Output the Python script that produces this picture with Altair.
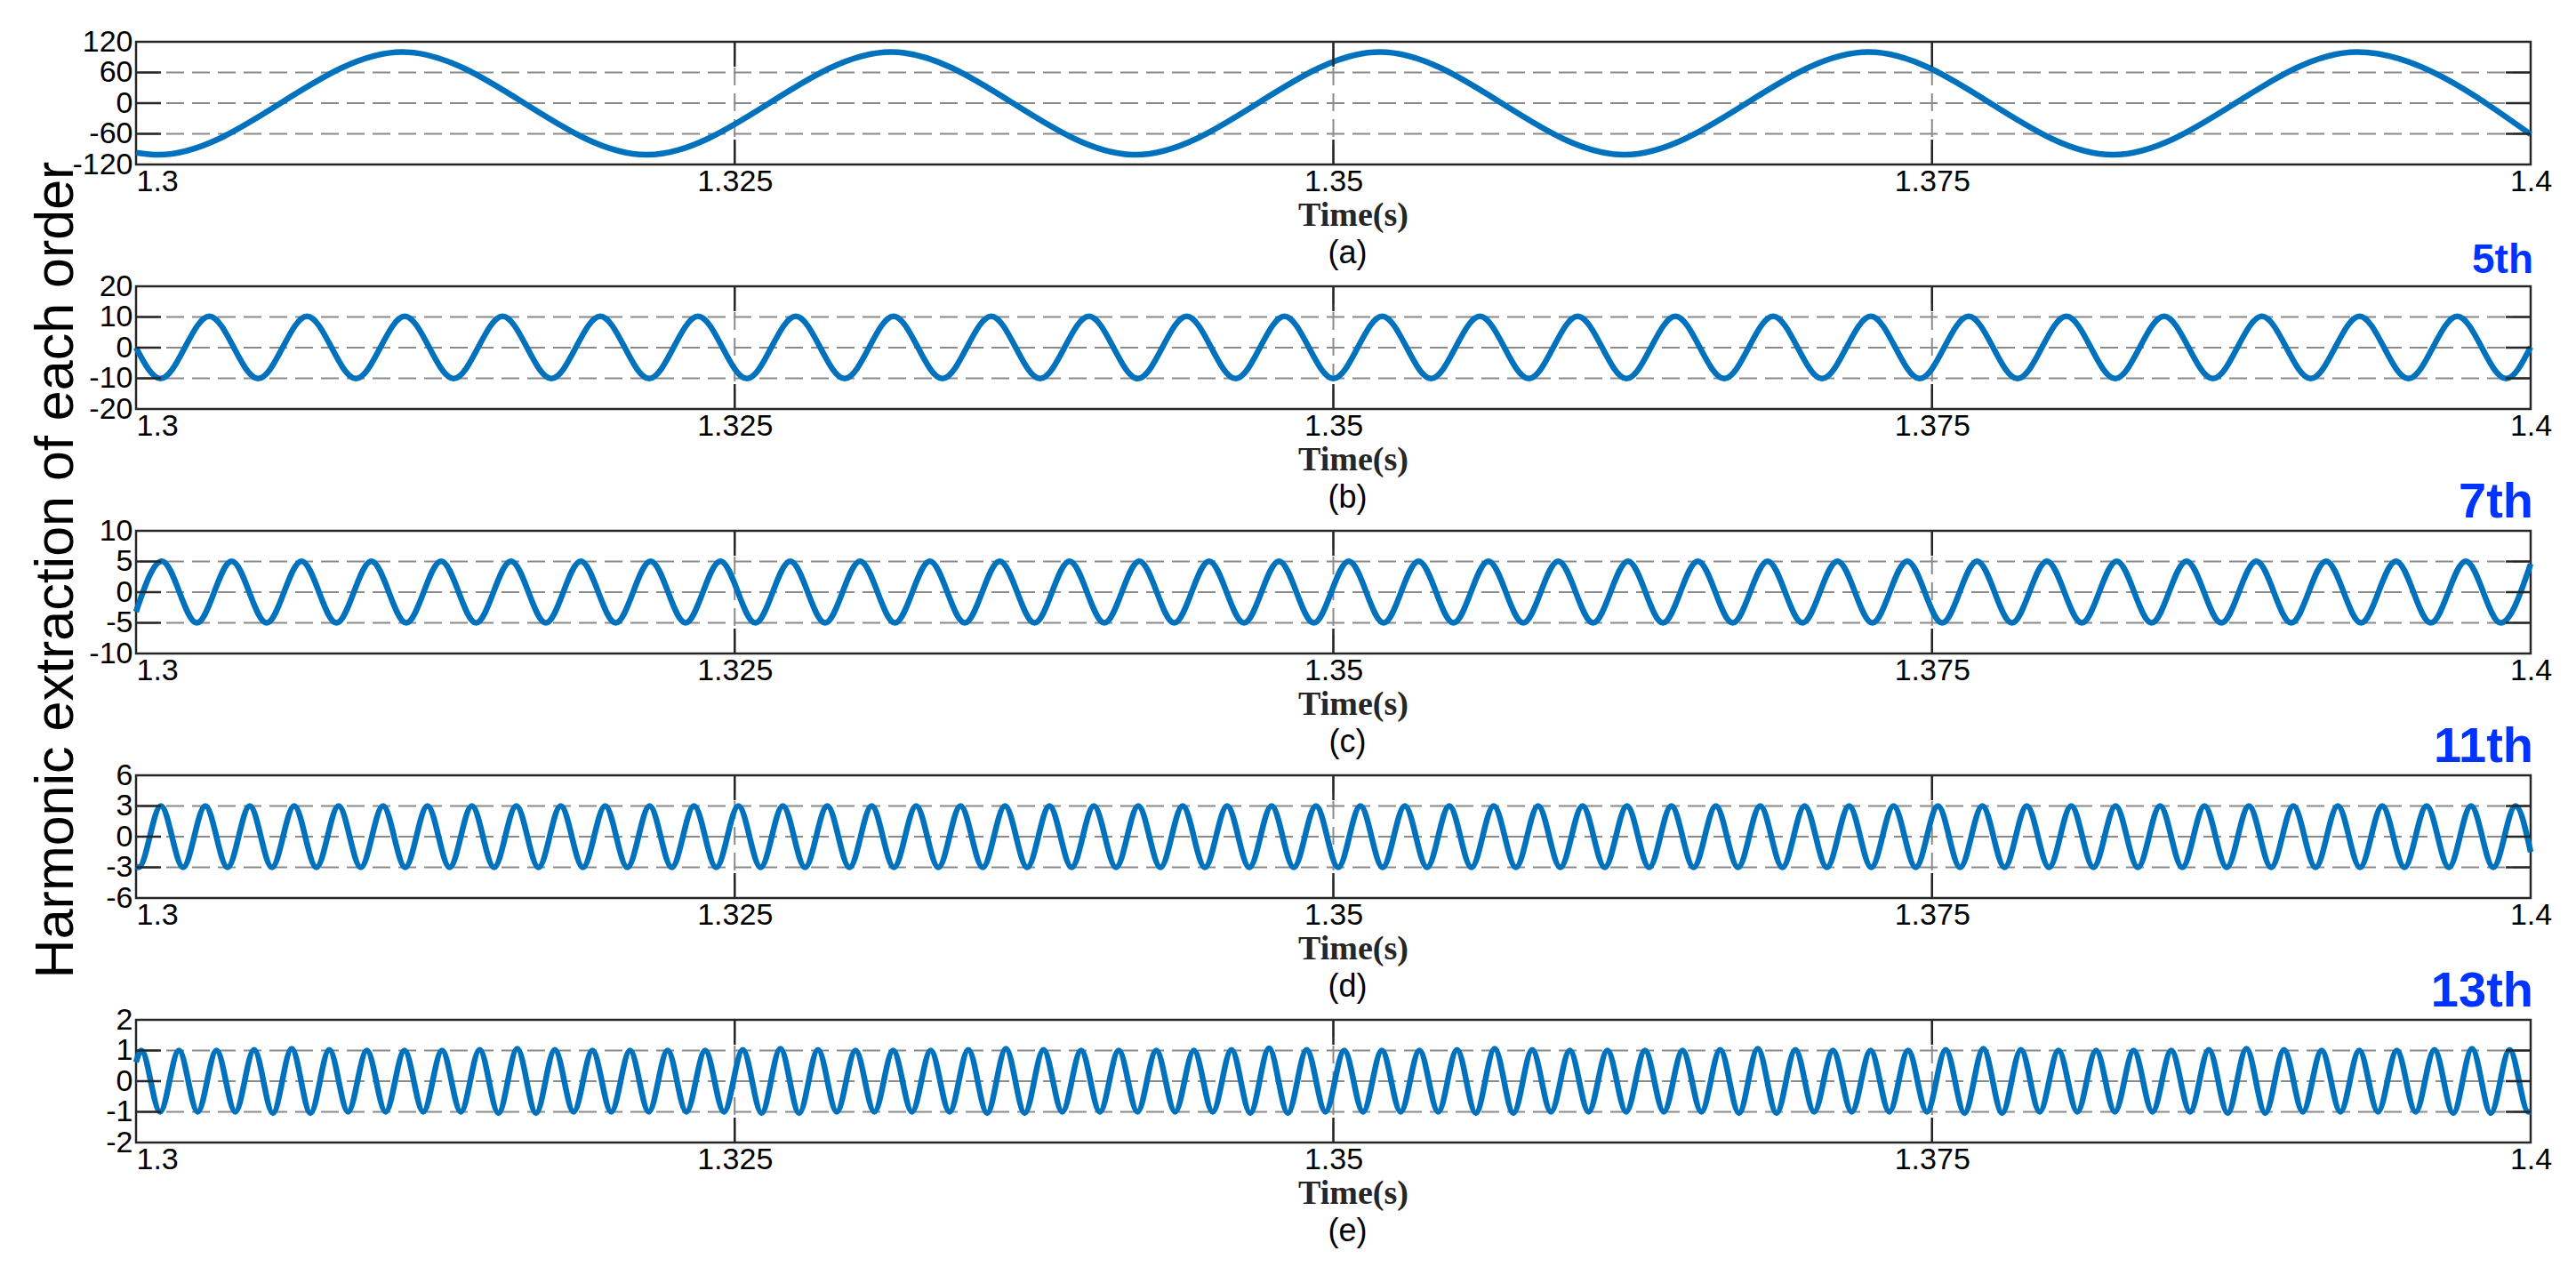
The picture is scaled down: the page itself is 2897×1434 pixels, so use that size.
import altair as alt
import pandas as pd

# ---------------- data ----------------
T_START, T_END = 1.3, 1.4
x_ticks = [1.3, 1.325, 1.35, 1.375, 1.4]

# (a) fundamental: extrema (trough first), evenly spaced in time
a_first_extremum = 1.30092
a_half_period = 0.010204
a_start_value = -97
a_extrema = [-101, 100, -101, 100, -101, 100, -101, 100, -101, 100]
a_end_value = -61
a_yticks = [-120, -60, 0, 60, 120]

# (b) 5th harmonic (trough first)
b_first_extremum = 1.30102
b_half_period = 0.0020408
b_start_value = 0.0
b_extrema = [
    -10.1, 10.2, -10.1, 10.2, -10.1, 10.2, -10.1, 10.2, -10.1, 10.2,
    -10.1, 10.2, -10.1, 10.2, -10.1, 10.2, -10.1, 10.2, -10.1, 10.2,
    -10.1, 10.2, -10.1, 10.2, -10.1, 10.2, -10.1, 10.2, -10.1, 10.2,
    -10.1, 10.2, -10.1, 10.2, -10.1, 10.2, -10.1, 10.2, -10.1, 10.2,
    -10.1, 10.2, -10.1, 10.2, -10.1, 10.2, -10.1, 10.2, -10.1,
]
b_end_value = 0.2
b_yticks = [-20, -10, 0, 10, 20]

# (c) 7th harmonic (peak first)
c_first_extremum = 1.30108
c_half_period = 0.00145775
c_start_value = -3.2
c_extrema = [
    5.05, -5.0, 5.05, -5.0, 5.05, -5.0, 5.05, -5.0, 5.05, -5.0,
    5.05, -5.0, 5.05, -5.0, 5.05, -5.0, 5.05, -5.0, 5.05, -5.0,
    5.05, -5.0, 5.05, -5.0, 5.05, -5.0, 5.05, -5.0, 5.05, -5.0,
    5.05, -5.0, 5.05, -5.0, 5.05, -5.0, 5.05, -5.0, 5.05, -5.0,
    5.05, -5.0, 5.05, -5.0, 5.05, -5.0, 5.05, -5.0, 5.05, -5.0,
    5.05, -5.0, 5.05, -5.0, 5.05, -5.0, 5.05, -5.0, 5.05, -5.0,
    5.05, -5.0, 5.05, -5.0, 5.05, -5.0, 5.05, -5.0,
]
c_end_value = 4.6
c_yticks = [-10, -5, 0, 5, 10]

# (d) 11th harmonic (trough first)
d_first_extremum = 1.30011
d_half_period = 0.00092764
d_start_value = -2.9
d_extrema = [
    -3.0, 3.0, -3.0, 3.0, -3.0, 3.0, -3.0, 3.0, -3.0, 3.0, -3.0, 3.0,
    -3.0, 3.0, -3.0, 3.0, -3.0, 3.0, -3.0, 3.0, -3.0, 3.0, -3.0, 3.0,
    -3.0, 3.0, -3.0, 3.0, -3.0, 3.0, -3.0, 3.0, -3.0, 3.0, -3.0, 3.0,
    -3.0, 3.0, -3.0, 3.0, -3.0, 3.0, -3.0, 3.0, -3.0, 3.0, -3.0, 3.0,
    -3.0, 3.0, -3.0, 3.0, -3.0, 3.0, -3.0, 3.0, -3.0, 3.0, -3.0, 3.0,
    -3.0, 3.0, -3.0, 3.0, -3.0, 3.0, -3.0, 3.0, -3.0, 3.0, -3.0, 3.0,
    -3.0, 3.0, -3.0, 3.0, -3.0, 3.0, -3.0, 3.0, -3.0, 3.0, -3.0, 3.0,
    -3.0, 3.0, -3.0, 3.0, -3.0, 3.0, -3.0, 3.0, -3.0, 3.0, -3.0, 3.0,
    -3.0, 3.0, -3.0, 3.0, -3.0, 3.0, -3.0, 3.0, -3.0, 3.0, -3.0, 3.0,
]
d_end_value = -1.5
d_yticks = [-6, -3, 0, 3, 6]

# (e) 13th harmonic (peak first)
e_first_extremum = 1.30022
e_half_period = 0.00078493
e_start_value = 0.62
e_extrema = [
    1.0, -1.0, 1.0, -1.0, 1.0, -1.0, 1.02, -1.04, 1.06, -1.04, 1.02, -1.0, 1.0, -1.0, 1.0, -1.0,
    1.0, -1.0, 1.02, -1.04, 1.06, -1.04, 1.02, -1.0, 1.0, -1.0, 1.0, -1.0, 1.0, -1.0, 1.0, -1.0,
    1.02, -1.04, 1.06, -1.04, 1.02, -1.0, 1.0, -1.0, 1.0, -1.0, 1.0, -1.0, 1.02, -1.04, 1.06, -1.04,
    1.02, -1.0, 1.0, -1.0, 1.0, -1.0, 1.0, -1.0, 1.0, -1.0, 1.02, -1.04, 1.07, -1.04, 1.02, -1.0,
    1.0, -1.0, 1.0, -1.0, 1.0, -1.0, 1.02, -1.04, 1.06, -1.04, 1.02, -1.0, 1.0, -1.0, 1.0, -1.0,
    1.0, -1.0, 1.0, -1.0, 1.02, -1.04, 1.06, -1.04, 1.02, -1.0, 1.0, -1.0, 1.0, -1.0, 1.0, -1.0,
    1.02, -1.04, 1.06, -1.04, 1.02, -1.0, 1.0, -1.0, 1.0, -1.0, 1.0, -1.0, 1.0, -1.0, 1.02, -1.04,
    1.06, -1.04, 1.02, -1.0, 1.0, -1.0, 1.0, -1.0, 1.0, -1.0, 1.02, -1.04, 1.06, -1.04, 1.02, -1.0,
]
e_end_value = -0.99
e_yticks = [-2, -1, 0, 1, 2]

panel_labels = ["(a)", "(b)", "(c)", "(d)", "(e)"]
order_labels = ["", "5th", "7th", "11th", "13th"]
x_title = "Time(s)"
y_title = "Harmonic extraction of each order"

# ---------------- styling ----------------
W, H = 2693, 138
TICK = 28
LINE_BLUE = "#0072bd"
FRAME = "#262626"
GRID = "#8a8a8a"
ORDER_BLUE = "#0033ff"


def series(first, half, start, extrema, end):
    t = [T_START] + [first + k * half for k in range(len(extrema))] + [T_END]
    v = [start] + list(extrema) + [end]
    return pd.DataFrame({"t": t, "v": v})


def panel(df, yticks, label, order, with_ytitle=False, order_size=56):
    xs = alt.Scale(domain=[T_START, T_END], nice=False, zero=False)
    ys = alt.Scale(domain=[yticks[0], yticks[-1]], nice=False, zero=False)
    xaxis = alt.Axis(
        values=x_ticks, labelExpr="'' + datum.value", grid=False, ticks=False, tickSize=0,
        domain=False, labelFont="Liberation Sans", labelFontSize=34, labelColor="black",
        labelAlign={"condition": {"test": "datum.value < %s" % (T_START + 0.001), "value": "left"},
                    "value": "center"},
        labelPadding=2, labelOverlap=False, labelFlush=False,
        title=x_title, titleFont="Liberation Serif", titleFontSize=38, titleFontWeight="bold",
        titleColor=FRAME, titleX=W / 2 + 22, titleY=68, titleBaseline="alphabetic")
    yaxis = alt.Axis(
        values=yticks, labelExpr="'' + datum.value", grid=False, ticks=False, tickSize=0,
        domain=False, labelFont="Liberation Sans", labelFontSize=34, labelColor="black",
        labelPadding=4, labelOverlap=False, labelFlush=False, title=None)
    X = lambda: alt.X("t:Q", scale=xs, axis=xaxis)
    Y = lambda: alt.Y("v:Q", scale=ys, axis=yaxis)

    inner_y = pd.DataFrame({"v": yticks[1:-1]})
    inner_x = pd.DataFrame({"t": x_ticks[1:-1]})

    grid_y = alt.Chart(inner_y).mark_rule(color=GRID, strokeWidth=2, strokeDash=[20, 9]).encode(y=Y())
    grid_x = alt.Chart(inner_x).mark_rule(color=GRID, strokeWidth=2, strokeDash=[20, 9]).encode(x=X())

    line = alt.Chart(df).mark_line(color=LINE_BLUE, strokeWidth=6.5, interpolate="monotone").encode(
        x=X(), y=Y())

    rule = dict(color=FRAME, strokeWidth=2.5)
    tick_l = alt.Chart(inner_y).mark_rule(**rule).encode(y=Y(), x=alt.value(0), x2=alt.value(TICK))
    tick_r = alt.Chart(inner_y).mark_rule(**rule).encode(y=Y(), x=alt.value(W - TICK), x2=alt.value(W))
    tick_b = alt.Chart(inner_x).mark_rule(**rule).encode(x=X(), y=alt.value(H - TICK), y2=alt.value(H))
    tick_t = alt.Chart(inner_x).mark_rule(**rule).encode(x=X(), y=alt.value(0), y2=alt.value(TICK))

    lab = alt.Chart(pd.DataFrame({"s": [label]})).mark_text(
        font="Liberation Sans", fontSize=36, color="black", align="center", baseline="alphabetic"
    ).encode(text="s:N", x=alt.value(W / 2 + 16), y=alt.value(H + 111))

    layers = [grid_y, grid_x, line, tick_l, tick_r, tick_b, tick_t, lab]

    if order:
        layers.append(alt.Chart(pd.DataFrame({"s": [order]})).mark_text(
            font="Liberation Sans Narrow, Liberation Sans", fontSize=order_size, fontWeight="bold",
            color=ORDER_BLUE, align="right", baseline="alphabetic"
        ).encode(text="s:N", x=alt.value(W + 3), y=alt.value(-15)))

    if with_ytitle:
        layers.append(alt.Chart(pd.DataFrame({"s": [y_title]})).mark_text(
            font="Liberation Sans", fontSize=61, color="black", angle=270,
            align="center", baseline="alphabetic"
        ).encode(text="s:N", x=alt.value(-71), y=alt.value(44)))

    return alt.layer(*layers).properties(width=W, height=H)


pa = panel(series(a_first_extremum, a_half_period, a_start_value, a_extrema, a_end_value),
           a_yticks, panel_labels[0], order_labels[0])
pb = panel(series(b_first_extremum, b_half_period, b_start_value, b_extrema, b_end_value),
           b_yticks, panel_labels[1], order_labels[1], order_size=46)
pc = panel(series(c_first_extremum, c_half_period, c_start_value, c_extrema, c_end_value),
           c_yticks, panel_labels[2], order_labels[2], with_ytitle=True)
pd_ = panel(series(d_first_extremum, d_half_period, d_start_value, d_extrema, d_end_value),
            d_yticks, panel_labels[3], order_labels[3])
pe = panel(series(e_first_extremum, e_half_period, e_start_value, e_extrema, e_end_value),
           e_yticks, panel_labels[4], order_labels[4])

chart = alt.vconcat(pa, pb, pc, pd_, pe, spacing=137, bounds="flush").properties(
    padding={"left": 23, "top": 20, "right": 10, "bottom": 10},
    background="white",
).configure_view(stroke=FRAME, strokeWidth=2.5)

chart.save("out.html", embed_options={"renderer": "svg", "actions": False})
